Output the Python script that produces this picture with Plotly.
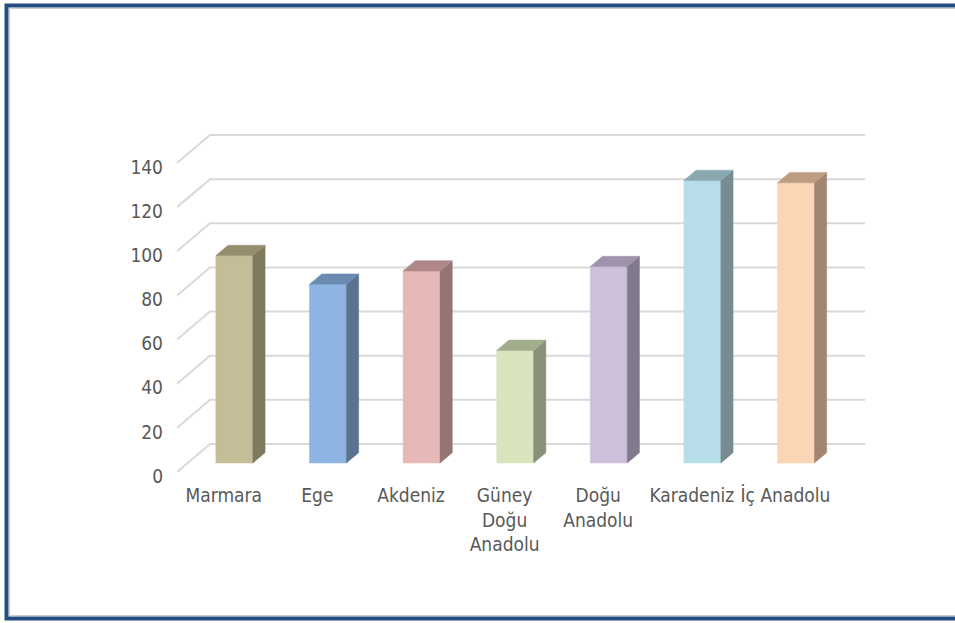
import plotly.graph_objects as go

# ---- data ----
categories = ["Marmara", "Ege", "Akdeniz", "Güney<br>Doğu<br>Anadolu", "Doğu<br>Anadolu", "Karadeniz", "İç Anadolu"]
values = [94, 81, 87, 51, 89, 128, 127]
front_colors = ["#C4BD97", "#8DB4E2", "#E6B8B7", "#D8E4BC", "#CCC0DA", "#B7DEE8", "#FCD5B4"]
side_colors = ["#7F7A5D", "#5A7392", "#957574", "#8A9078", "#807A8C", "#778C91", "#A38671"]
top_colors = ["#948E6F", "#6A8AB0", "#AF8786", "#A2AD8C", "#9E93AA", "#8AA8B0", "#BD9E83"]
y_ticks = [0, 20, 40, 60, 80, 100, 120, 140]

# ---- 3D projection parameters (in axis units) ----
DX = 0.3526      # full floor depth, horizontal (category units)
DY = 12.69       # full floor depth, vertical (value units)
F0, F1 = 0.32, 0.69  # bar front/back depth fractions
BAR_W = 0.395
n = len(categories)
XL, XR = -0.5, n - 0.5

# figure pixel layout
W, H = 955, 623
L, R, T, B = 177, 85, 100, 151
pw, ph = W - L - R, H - T - B
x_range = [XL, XL + pw / 93.6]
y_range = [0, ph / 2.207]

GRID = "#D9D9D9"
TXT = "#595959"
FONT = "Liberation Sans Narrow, DejaVu Sans Condensed, Roboto, sans-serif"

fig = go.Figure()

# gridlines: diagonal on the side wall + horizontal on the back wall
gx, gy = [], []
for v in y_ticks:
    gx += [XL, XL + DX, XR + DX, None]
    gy += [v, v + DY, v + DY, None]
fig.add_trace(go.Scatter(x=gx, y=gy, mode="lines", line=dict(color=GRID, width=2),
                         hoverinfo="skip", showlegend=False))

# bars
for i, v in enumerate(values):
    xl = i - BAR_W / 2 + F0 * DX
    xr = i + BAR_W / 2 + F0 * DX
    b = F0 * DY
    ddx = (F1 - F0) * DX
    ddy = (F1 - F0) * DY
    # front face
    fig.add_trace(go.Scatter(x=[xl, xr, xr, xl, xl], y=[b, b, b + v, b + v, b],
                             fill="toself", fillcolor=front_colors[i], mode="lines",
                             line=dict(color=front_colors[i], width=0.5),
                             hoverinfo="skip", showlegend=False))
    # side face
    fig.add_trace(go.Scatter(x=[xr, xr + ddx, xr + ddx, xr, xr],
                             y=[b, b + ddy, b + v + ddy, b + v, b],
                             fill="toself", fillcolor=side_colors[i], mode="lines",
                             line=dict(color=side_colors[i], width=0.5),
                             hoverinfo="skip", showlegend=False))
    # top face
    fig.add_trace(go.Scatter(x=[xl, xr, xr + ddx, xl + ddx, xl],
                             y=[b + v, b + v, b + v + ddy, b + v + ddy, b + v],
                             fill="toself", fillcolor=top_colors[i], mode="lines",
                             line=dict(color=top_colors[i], width=0.5),
                             hoverinfo="skip", showlegend=False))

# frame (in paper coords converted from pixels)
def px_x(p):
    return (p - L) / pw

def px_y(p):
    return (H - B - p) / ph

fig.add_shape(type="rect", xref="paper", yref="paper",
              x0=px_x(6.5), x1=px_x(1010), y0=px_y(5.5), y1=px_y(618.5),
              line=dict(color="#254D7F", width=4), fillcolor="rgba(0,0,0,0)")
fig.add_shape(type="rect", xref="paper", yref="paper",
              x0=px_x(9.5), x1=px_x(1010), y0=px_y(8.5), y1=px_y(615.5),
              line=dict(color="#C8CCD2", width=1), fillcolor="rgba(0,0,0,0)")

fig.update_layout(
    width=W, height=H, autosize=False,
    margin=dict(l=L, r=R, t=T, b=B),
    paper_bgcolor="white", plot_bgcolor="white",
    showlegend=False,
    font=dict(family=FONT, size=19, color=TXT),
    xaxis=dict(range=x_range, tickvals=list(range(n)), ticktext=categories,
               showgrid=False, zeroline=False, showline=False,
               ticks="outside", ticklen=6, tickcolor="rgba(0,0,0,0)",
               tickangle=0, fixedrange=True),
    yaxis=dict(range=y_range, tickvals=y_ticks, showgrid=False, zeroline=False,
               showline=False, ticks="", ticklabelstandoff=13, ticklabelshift=4,
               fixedrange=True),
)

fig.write_html("out.html")
